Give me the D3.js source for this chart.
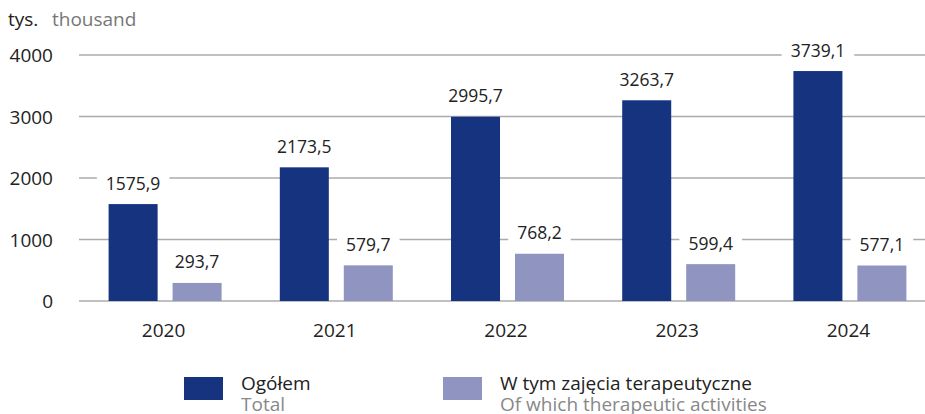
<!DOCTYPE html>
<html><head><meta charset="utf-8">
<script src="https://cdn.jsdelivr.net/npm/d3@7"></script>
<style>body{margin:0;background:#fff}svg{display:block;font-family:"Open Sans",sans-serif}</style>
</head><body><svg id="c" width="925" height="414"></svg>
<script>
const years = ["2020","2021","2022","2023","2024"];
const total = [1575.9, 2173.5, 2995.7, 3263.7, 3739.1];
const therapeutic = [293.7, 579.7, 768.2, 599.4, 577.1];
const yTicks = [0, 1000, 2000, 3000, 4000];
const seriesNames = [["Ogółem","Total"],["W tym zajęcia terapeutyczne","Of which therapeutic activities"]];
const colors = ["#15337f","#8f95c0"];

const svg = d3.select("#c");
const x = d3.scaleBand().domain(years).range([79, 935]).paddingInner(0).paddingOuter(0);
const y = d3.scaleLinear().domain([0, 4000]).range([301, 55]);
const sub = d3.scaleBand().domain([0,1]).range([-56, 57]).paddingInner(0.234).paddingOuter(0);

// gridlines
svg.append("g").selectAll("line").data(yTicks).join("line")
  .attr("x1", 79).attr("x2", 925)
  .attr("y1", d => y(d)).attr("y2", d => y(d))
  .attr("stroke", "#ababab").attr("stroke-width", 1.6);

// y labels
svg.append("g").selectAll("text").data(yTicks).join("text")
  .attr("x", 53).attr("y", d => y(d) + 7).attr("text-anchor", "end")
  .attr("font-size", 19).attr("fill", "#222").text(d => d);

svg.append("text").attr("x", 8).attr("y", 26).attr("font-size", 19).attr("fill", "#222").text("tys.");
svg.append("text").attr("x", 52).attr("y", 26).attr("font-size", 19).attr("fill", "#777").text("thousand");

const fmt = v => d3.format(".1f")(v).replace(".", ",");
const series = [total, therapeutic];
series.forEach((vals, si) => {
  const g = svg.append("g");
  g.selectAll("rect").data(vals).join("rect")
    .attr("x", (d, i) => x(years[i]) + x.bandwidth()/2 + sub(si))
    .attr("width", sub.bandwidth())
    .attr("y", d => y(d)).attr("height", d => y(0) - y(d))
    .attr("fill", colors[si]);
});
series.forEach((vals, si) => {
  vals.forEach((d, i) => {
    const cx = x(years[i]) + x.bandwidth()/2 + sub(si) + sub.bandwidth()/2;
    const cy = y(d) - 21;
    const t = svg.append("text").attr("x", cx).attr("y", cy + 6.5).attr("text-anchor", "middle")
      .attr("font-size", 17.5).attr("fill", "#222").text(fmt(d));
    const bb = t.node().getBBox();
    svg.insert("rect", () => t.node()).attr("x", bb.x - 9).attr("y", bb.y - 1)
      .attr("width", bb.width + 18).attr("height", bb.height + 2).attr("fill", "#fff");
  });
});

// x labels
svg.append("g").selectAll("text").data(years).join("text")
  .attr("x", d => x(d) + x.bandwidth()/2 - 1).attr("y", 337).attr("text-anchor", "middle")
  .attr("font-size", 19).attr("fill", "#222").text(d => d);

// legend
const legX = [184, 443];
seriesNames.forEach((n, i) => {
  svg.append("rect").attr("x", legX[i]).attr("y", 377).attr("width", 39).attr("height", 23).attr("fill", colors[i]);
  svg.append("text").attr("x", legX[i] + 57).attr("y", 390).attr("font-size", 19).attr("fill", "#222").text(n[0]);
  svg.append("text").attr("x", legX[i] + 57).attr("y", 411).attr("font-size", 19).attr("fill", "#888").text(n[1]);
});
</script></body></html>
